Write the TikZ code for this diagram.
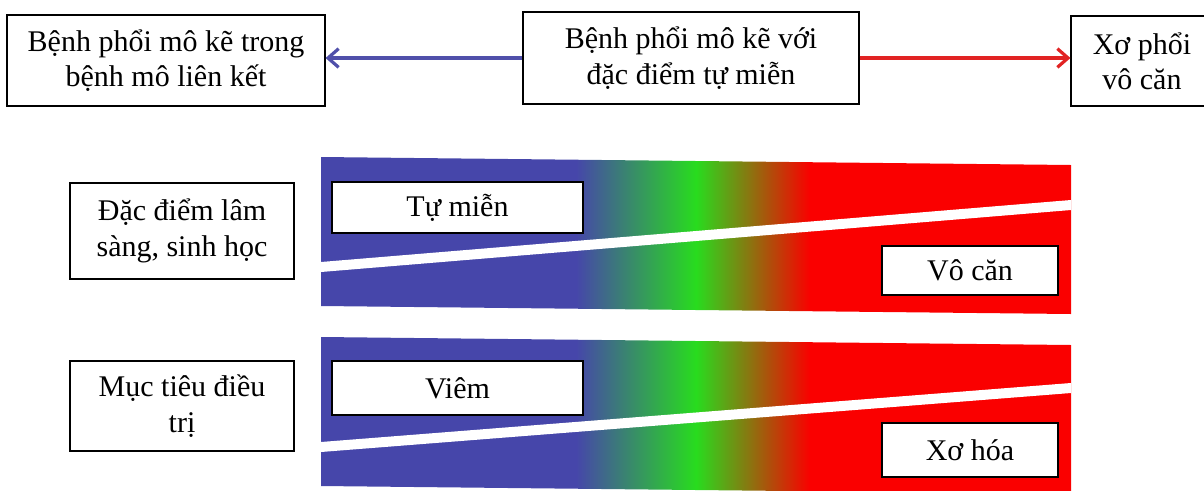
\documentclass[tikz,border=0pt]{standalone}
\usepackage{fontspec}
\setmainfont{Liberation Serif}
\usetikzlibrary{arrows.meta}
\definecolor{bandblue}{RGB}{70,70,170}
\definecolor{bandgreen}{RGB}{40,220,30}
\definecolor{bandred}{RGB}{250,0,0}
\definecolor{arrblue}{RGB}{80,80,170}
\definecolor{arrred}{RGB}{225,35,35}
\pgfdeclarehorizontalshading{spectrum}{100bp}{color(0bp)=(bandblue); color(42bp)=(bandblue);
  color(50bp)=(bandgreen); color(57.6bp)=(bandred); color(100bp)=(bandred)}
\tikzset{
  box/.style={draw, line width=0.8pt, fill=white, align=center, inner sep=0pt,
    font=\fontsize{22.5}{26.5}\selectfont},
  sz/.style 2 args={minimum width=#1*0.75pt, minimum height=#2*0.75pt},
  link/.style={line width=3.3pt, -{Straight Barb[length=8pt,width=14pt,line width=2.4pt]}}
}

\begin{document}
\begin{tikzpicture}[x=0.75pt,y={(0pt,-0.75pt)}]
  \useasboundingbox (0,0) rectangle (1204,490);
  \foreach \t/\a/\b in {157/262/200,337/442/383}{
    \shade[shading=spectrum] (321,\t) -- (1071,\t+8) -- (1071,\t+157) -- (321,\t+149) -- cycle;
    \fill[white] (321,\a) -- (1071,\b) -- (1071,\b+10) -- (321,\a+10) -- cycle;
  }
  \node[box,sz={318}{91}] (ctd) at (166,60.5) {Bệnh phổi mô kẽ trong\\bệnh mô liên kết};
  \node[box,sz={336}{92}] (ipaf) at (691,58) {Bệnh phổi mô kẽ với\\đặc điểm tự miễn};
  \node[box,sz={142}{90}] (ipf) at (1142,61) {Xơ phổi\\vô căn};
  \node[box,sz={224}{96}] (clin) at (182,231) {Đặc điểm lâm\\sàng, sinh học};
  \node[box,sz={224}{90}] (goal) at (182,406) {Mục tiêu điều\\trị};
  \node[box,sz={251}{51}] (auto) at (457.5,207.5) {Tự miễn};
  \node[box,sz={176}{49}] (idio) at (970,270.5) {Vô căn};
  \node[box,sz={251}{54}] (infl) at (457.5,388) {Viêm};
  \node[box,sz={176}{54}] (fibr) at (970,450) {Xơ hóa};
  \draw[link,arrblue] (ipaf.west) -- (ctd.east |- ipaf.west);
  \draw[link,arrred] (ipaf.east) -- (ipf.west |- ipaf.east);
\end{tikzpicture}
\end{document}
